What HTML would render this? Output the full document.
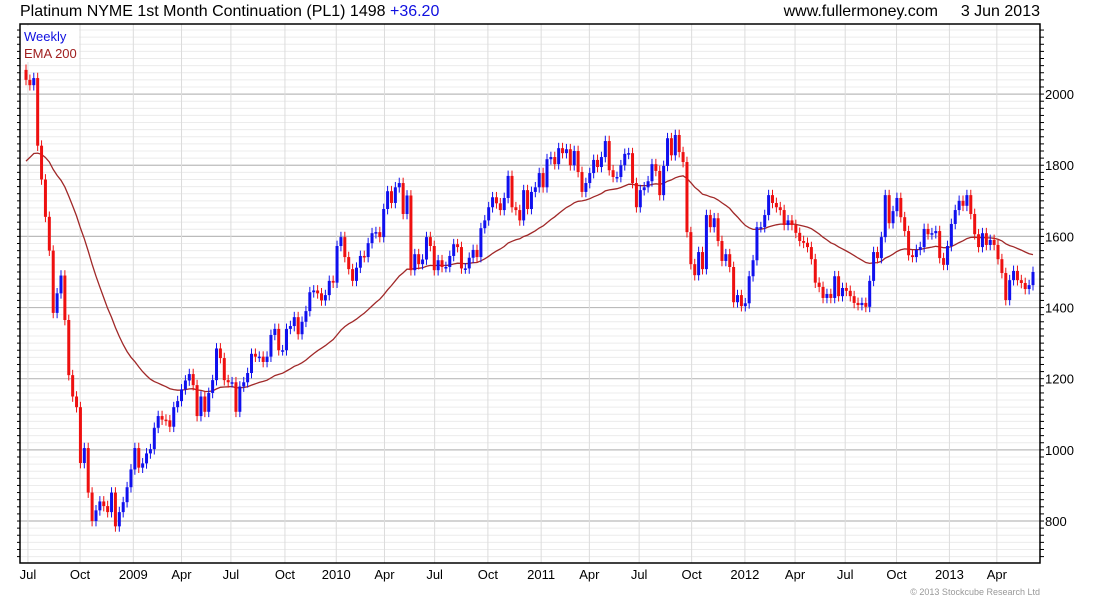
<!DOCTYPE html>
<html><head><meta charset="utf-8"><style>
body{margin:0;background:#fff;width:1100px;height:600px;overflow:hidden;font-family:"Liberation Sans",Arial,sans-serif}
svg{display:block}
</style></head><body>
<svg id="chart" width="1100" height="600" xmlns="http://www.w3.org/2000/svg" font-family="Liberation Sans, Arial, sans-serif">
<text x="20" y="16" font-size="16">Platinum NYME 1st Month Continuation (PL1) 1498 <tspan fill="#1010e0">+36.20</tspan></text>
<text x="938" y="16" font-size="16" text-anchor="end">www.fullermoney.com</text>
<text x="1040" y="16" font-size="16" text-anchor="end">3 Jun 2013</text>
<g id="grid"></g>
<g id="ema"></g>
<g id="candles"></g>
<g id="axes"></g>
<rect x="21" y="26" width="58" height="36" fill="#fff"/>
<text x="24" y="41" font-size="13" fill="#1010e0">Weekly</text>
<text x="24" y="58" font-size="13" fill="#a02020">EMA 200</text>
<text x="1040" y="595" font-size="9" fill="#999" text-anchor="end">© 2013 Stockcube Research Ltd</text>
</svg>
<script>
const closes=[2040,2025,2045,1855,1760,1655,1560,1385,1440,1490,1365,1210,1150,1120,963,1005,880,800,830,855,842,825,880,785,825,853,895,945,1005,950,
962,990,1002,1062,1095,1085,1083,1065,1120,1137,1170,1195,1213,1182,1095,1150,1107,1160,1196,1285,1258,1196,1190,1190,1107,1178,1190,1216,1270,1262,
1262,1247,1262,1323,1340,1280,1280,1340,1348,1373,1325,1360,1390,1443,1448,1440,1420,1435,1475,1470,1573,1598,1542,1508,1475,1512,1545,1542,1581,1609,
1612,1598,1677,1727,1694,1738,1750,1663,1715,1505,1550,1522,1535,1598,1573,1505,1533,1514,1514,1545,1578,1570,1510,1510,1540,1562,1542,1623,1645,1682,
1710,1693,1674,1708,1770,1682,1674,1645,1730,1677,1725,1738,1778,1738,1817,1823,1803,1848,1834,1845,1800,1840,1781,1725,1750,1778,1815,1795,1823,1868,
1786,1767,1767,1800,1832,1834,1750,1682,1730,1738,1755,1803,1784,1716,1798,1876,1828,1885,1837,1809,1612,1522,1491,1556,1508,1660,1626,1651,1587,1531,
1550,1514,1415,1435,1404,1412,1488,1533,1626,1626,1660,1716,1694,1682,1674,1632,1645,1632,1610,1587,1582,1570,1536,1470,1458,1427,1438,1427,1488,1432,
1455,1447,1432,1413,1407,1413,1402,1475,1556,1539,1598,1716,1637,1671,1708,1654,1615,1547,1542,1562,1570,1621,1606,1609,1615,1539,1520,1573,1635,1674,
1700,1686,1716,1663,1606,1570,1609,1576,1590,1576,1536,1497,1421,1477,1503,1477,1469,1452,1463,1500];
const firstOpen=2068;
const yTicks=[800,1000,1200,1400,1600,1800,2000];
const xLabels=["Jul","Oct","2009","Apr","Jul","Oct","2010","Apr","Jul","Oct","2011","Apr","Jul","Oct","2012","Apr","Jul","Oct","2013","Apr"];
const xLabelWeeks=[0.5,13.9,27.6,40.0,52.7,66.6,79.8,92.2,105.1,118.8,132.5,144.9,157.7,171.2,184.9,197.8,210.7,223.9,237.5,249.7];
const emaSeed=1800, emaPeriod=40;

const NS="http://www.w3.org/2000/svg";
const L=20,R=1040,T=24,B=563;
const vMax=2197,vMin=682;
const y=v=>T+(vMax-v)/(vMax-vMin)*(B-T);
const x=i=>26+i*(1033-26)/(closes.length-1);
function mk(tag,attrs,parent){const e=document.createElementNS(NS,tag);for(const k in attrs)e.setAttribute(k,attrs[k]);parent.appendChild(e);return e;}
const grid=document.getElementById('grid'),ax=document.getElementById('axes');
for(let v=700;v<=2180;v+=20){
  const major=v%200===0;
  const ln=mk('line',{x1:L,x2:R,y1:y(v),y2:y(v),stroke:major?'#bbb':'#ececec','stroke-width':major?1.2:1},grid);
  
  
  const t1=mk('line',{x1:L-3,x2:L,y1:y(v),y2:y(v),stroke:'#000'},ax);
  
  
  const t2=mk('line',{x1:R,x2:R+4,y1:y(v),y2:y(v),stroke:'#000'},ax);
  
  
}
xLabelWeeks.forEach((w,k)=>{
  const xx=x(w);
  const ln=mk('line',{x1:xx,x2:xx,y1:T,y2:B,stroke:'#dcdcdc'},grid);
  
  
  const t=mk('text',{x:xx,y:579,'font-size':13,'text-anchor':'middle'},ax);
  t.textContent=xLabels[k];
  
  
});
yTicks.forEach(v=>{
  const t=mk('text',{x:1045,y:y(v)+5,'font-size':13},ax);
  t.textContent=v;
  
  
});
const frame=mk('rect',{x:L,y:T,width:R-L,height:B-T,fill:'none',stroke:'#000','stroke-width':1.5},ax);


// EMA
let e=emaSeed;const a=2/(emaPeriod+1);let pts=[];
closes.forEach((c,i)=>{e=e+a*(c-e);pts.push(x(i).toFixed(1)+','+y(e).toFixed(1));});
const pl=mk('polyline',{points:pts.join(' '),fill:'none',stroke:'#a02828','stroke-width':1.3},document.getElementById('ema'));


// candles
const cg=document.getElementById('candles');
closes.forEach((c,i)=>{
  const o=i===0?firstOpen:closes[i-1];
  const up=c>=o, col=up?'#1010ee':'#ee1010';
  const hi=Math.max(o,c)+15, lo=Math.min(o,c)-15;
  const xx=x(i);
  const w=mk('line',{x1:xx,x2:xx,y1:y(hi),y2:y(lo),stroke:col,'stroke-width':1},cg);
  
  
  const top=y(Math.max(o,c)),h=Math.max(1.5,y(Math.min(o,c))-top);
  const r=mk('rect',{x:xx-1.5,y:top,width:3,height:h,fill:col},cg);
  
  
});
</script>
</body></html>
